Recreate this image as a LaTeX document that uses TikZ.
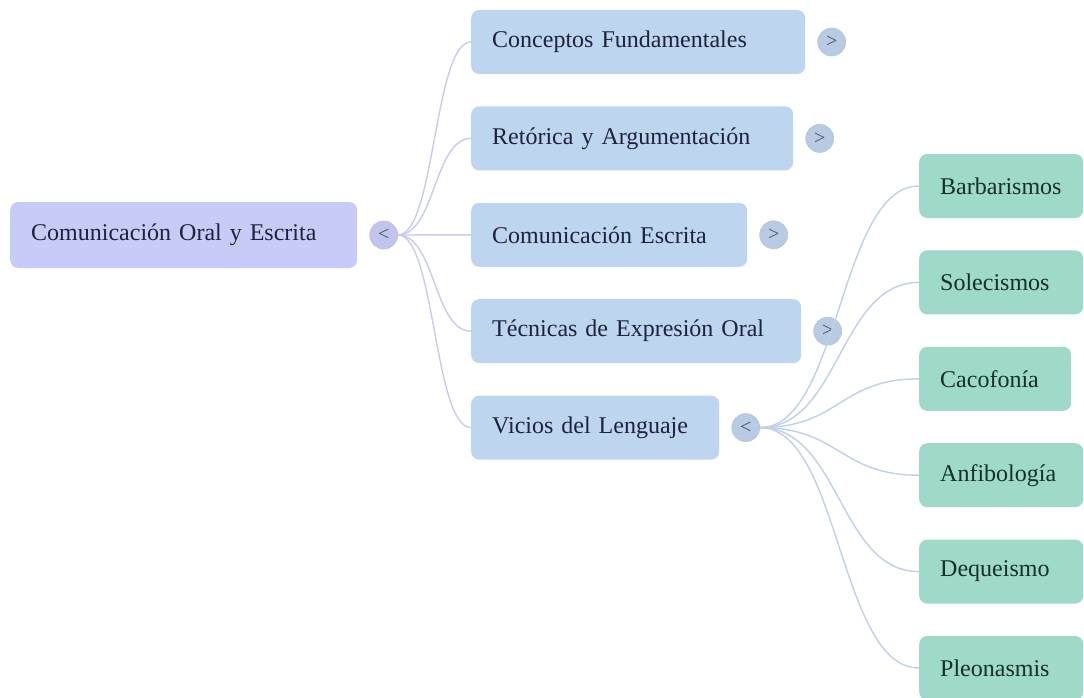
\documentclass[tikz,border=0pt]{standalone}
\usepackage{fontspec}
\setmainfont{Liberation Serif}
\usetikzlibrary{positioning}
\definecolor{rootfill}{RGB}{199,203,248}
\definecolor{topicfill}{RGB}{189,213,239}
\definecolor{leaffill}{RGB}{159,217,201}
\definecolor{rootline}{RGB}{200,203,240}
\definecolor{topicline}{RGB}{192,208,232}
\definecolor{inktext}{RGB}{30,34,58}
\definecolor{leaftext}{RGB}{20,48,40}
\tikzstyle{rootbox} = [rectangle, rounded corners=8pt, fill=rootfill, minimum height=66pt, inner xsep=21pt, align=left, text=inktext, font=\fontsize{24}{28}\selectfont]
\tikzstyle{topic} = [rectangle, rounded corners=8pt, fill=topicfill, minimum height=64pt, inner xsep=21pt, align=left, text=inktext, font=\fontsize{24}{28}\selectfont]
\tikzstyle{leaf} = [rectangle, rounded corners=8pt, fill=leaffill, minimum height=64pt, inner xsep=21pt, align=left, text=leaftext, font=\fontsize{24}{28}\selectfont]
\tikzstyle{toggle} = [circle, minimum size=28pt, inner sep=0pt, fill=topicfill!90!gray, draw=topicfill!80!gray, line width=0.6pt, text=inktext!80, font=\fontsize{20}{20}\selectfont]
\tikzstyle{branch} = [line width=1.4pt, draw=rootline]
\tikzstyle{twig} = [line width=1.4pt, draw=topicline]

\begin{document}
\begin{tikzpicture}[x=1pt, y=-1pt]
	\useasboundingbox (0,0) rectangle (1084,698);
	\node (Root) [rootbox, text width=305pt, anchor=west] at (10,235) {Comunicación Oral y Escrita};
	\node (RootToggle) [toggle, fill=rootfill!92!gray, draw=rootfill!80!gray, right = 12pt of Root] {<};
	\node (Conceptos) [topic, text width=292pt, anchor=west] at (471,42) {Conceptos Fundamentales};
	\node (Retorica) [topic, text width=280pt, below = 32pt of Conceptos.south west, anchor=north west] {Retórica y Argumentación};
	\node (Escrita) [topic, text width=234pt, below = 32pt of Retorica.south west, anchor=north west] {Comunicación Escrita};
	\node (Tecnicas) [topic, text width=288pt, below = 32pt of Escrita.south west, anchor=north west] {Técnicas de Expresión Oral};
	\node (Vicios) [topic, text width=206pt, below = 32pt of Tecnicas.south west, anchor=north west] {Vicios del Lenguaje};
	\node (ConceptosToggle) [toggle, right = 12pt of Conceptos] {>};
	\node (RetoricaToggle) [toggle, right = 12pt of Retorica] {>};
	\node (EscritaToggle) [toggle, right = 12pt of Escrita] {>};
	\node (TecnicasToggle) [toggle, right = 12pt of Tecnicas] {>};
	\node (ViciosToggle) [toggle, right = 12pt of Vicios] {<};
	\node (Barbarismos) [leaf, text width=122pt, anchor=west] at (919,186) {Barbarismos};
	\node (Solecismos) [leaf, text width=122pt, below = 32pt of Barbarismos.south west, anchor=north west] {Solecismos};
	\node (Cacofonia) [leaf, text width=110pt, below = 32pt of Solecismos.south west, anchor=north west] {Cacofonía};
	\node (Anfibologia) [leaf, text width=122pt, below = 32pt of Cacofonia.south west, anchor=north west] {Anfibología};
	\node (Dequeismo) [leaf, text width=122pt, below = 32pt of Anfibologia.south west, anchor=north west] {Dequeismo};
	\node (Pleonasmis) [leaf, text width=122pt, below = 32pt of Dequeismo.south west, anchor=north west] {Pleonasmis};
	\draw [branch] (RootToggle.east) .. controls +(37,0) and +(-37,0) .. (Conceptos.west);
	\draw [branch] (RootToggle.east) .. controls +(37,0) and +(-37,0) .. (Retorica.west);
	\draw [branch] (RootToggle.east) .. controls +(37,0) and +(-37,0) .. (Escrita.west);
	\draw [branch] (RootToggle.east) .. controls +(37,0) and +(-37,0) .. (Tecnicas.west);
	\draw [branch] (RootToggle.east) .. controls +(37,0) and +(-37,0) .. (Vicios.west);
	\draw [twig] (ViciosToggle.east) .. controls +(80,0) and +(-80,0) .. (Barbarismos.west);
	\draw [twig] (ViciosToggle.east) .. controls +(80,0) and +(-80,0) .. (Solecismos.west);
	\draw [twig] (ViciosToggle.east) .. controls +(80,0) and +(-80,0) .. (Cacofonia.west);
	\draw [twig] (ViciosToggle.east) .. controls +(80,0) and +(-80,0) .. (Anfibologia.west);
	\draw [twig] (ViciosToggle.east) .. controls +(80,0) and +(-80,0) .. (Dequeismo.west);
	\draw [twig] (ViciosToggle.east) .. controls +(80,0) and +(-80,0) .. (Pleonasmis.west);
\end{tikzpicture}
\end{document}
